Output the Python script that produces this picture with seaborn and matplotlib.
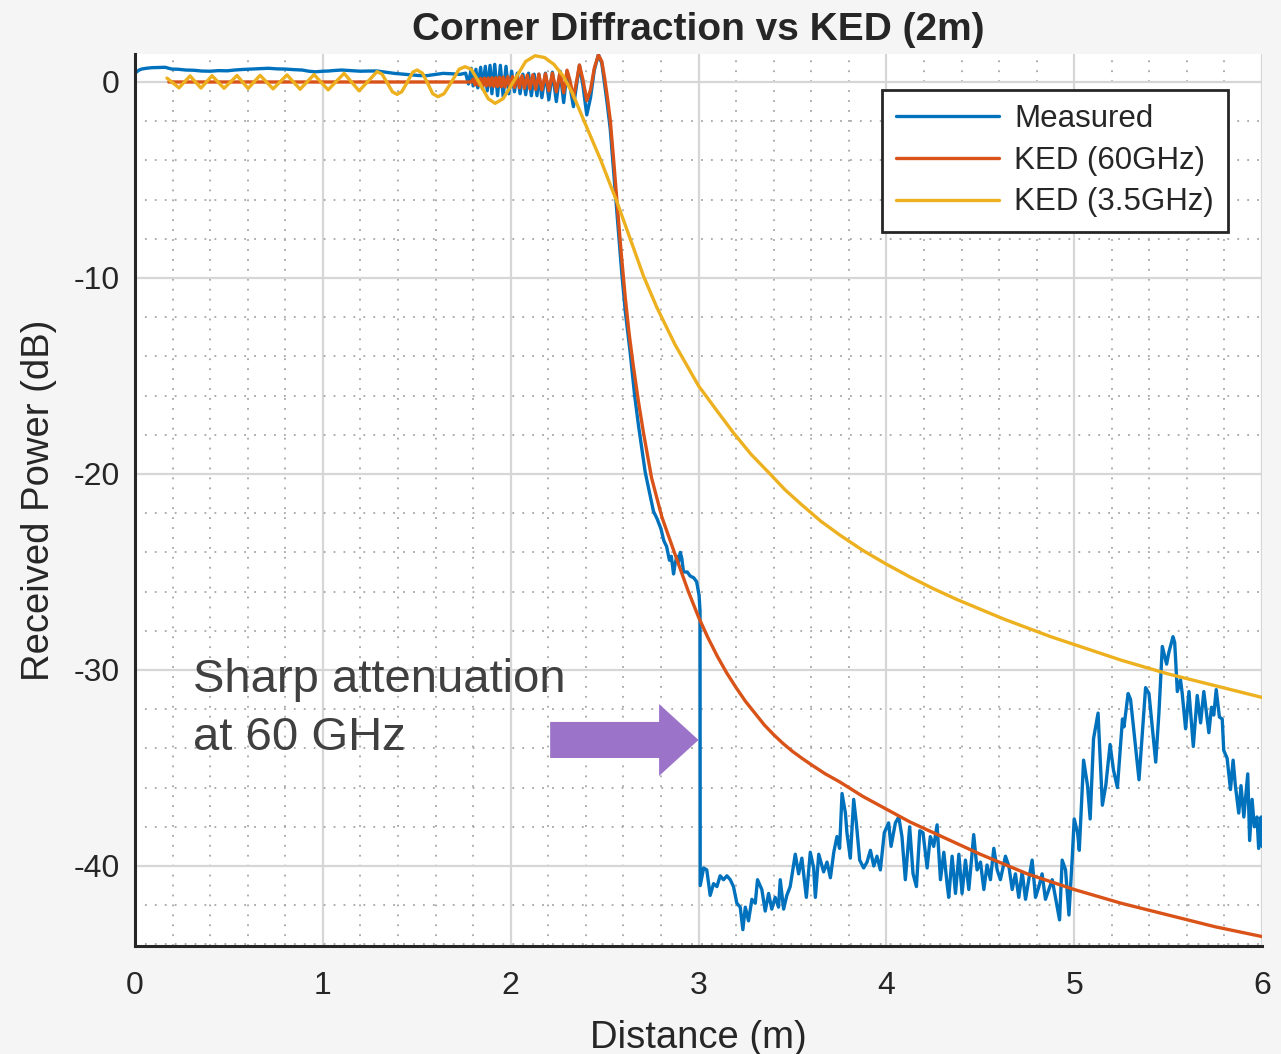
import matplotlib
matplotlib.use("Agg")
import matplotlib.pyplot as plt
from matplotlib.patches import FancyArrow
from matplotlib.ticker import MultipleLocator
import seaborn as sns

# ---- Measured received power (blue) ----
meas_dist_los = [0.0, 0.02, 0.035, 0.06, 0.09, 0.12, 0.16, 0.195, 0.23, 0.27, 0.31, 0.355, 0.40,
                 0.445, 0.49, 0.53, 0.575, 0.62, 0.665, 0.71, 0.755, 0.80, 0.845, 0.89, 0.925, 0.96,
                 1.0, 1.03, 1.065, 1.10, 1.15, 1.20, 1.245, 1.29, 1.335, 1.38, 1.425, 1.47, 1.51,
                 1.55, 1.595, 1.64, 1.685, 1.73]
meas_db_los = [0.45, 0.6, 0.66, 0.7, 0.73, 0.74, 0.75, 0.66, 0.65, 0.61, 0.6, 0.56, 0.55,
               0.58, 0.57, 0.61, 0.64, 0.66, 0.68, 0.70, 0.67, 0.66, 0.63, 0.61, 0.55, 0.52,
               0.55, 0.56, 0.59, 0.61, 0.58, 0.55, 0.56, 0.56, 0.5, 0.44, 0.4, 0.36, 0.33,
               0.32, 0.38, 0.44, 0.42, 0.39]

meas_dist_fringe = [1.76, 1.775, 1.79, 1.80, 1.815, 1.825, 1.84, 1.85, 1.865, 1.875,
                    1.89, 1.90, 1.915, 1.93, 1.945, 1.96, 1.975, 1.99, 2.005, 2.02,
                    2.035, 2.05, 2.065, 2.08, 2.095, 2.11, 2.125, 2.14, 2.15, 2.166,
                    2.185, 2.203, 2.222, 2.243, 2.263, 2.282, 2.30, 2.317, 2.334, 2.35,
                    2.366, 2.385, 2.405, 2.425, 2.445, 2.467, 2.485, 2.50, 2.515, 2.53]
meas_db_fringe = [0.45, -0.1, 0.7, -0.2, 0.65, -0.3, 0.75, -0.35, 0.8, -0.45,
                  0.85, -0.6, 0.9, -0.7, 0.85, -0.75, 0.8, -0.6, 0.55, -0.5,
                  0.45, -0.6, 0.4, -0.65, 0.45, -0.7, 0.4, -0.7, 0.4, -0.8,
                  0.45, -0.9, 0.5, -1.0, 0.55, -1.05, 0.55, -0.3, -1.26, -0.2,
                  0.85, -0.2, -1.68, -0.8, 0.6, 1.4, 0.95, -0.1, -1.2, -2.4]

meas_dist_edge = [2.55, 2.57, 2.59, 2.61, 2.636, 2.66, 2.68, 2.716, 2.76, 2.78, 2.80, 2.815,
                  2.83, 2.845, 2.855, 2.867, 2.875, 2.885, 2.893, 2.903, 2.911, 2.92, 2.94,
                  2.955, 2.975, 2.99, 3.003, 3.008]
meas_db_edge = [-4.8, -7.2, -9.6, -11.7, -13.8, -16.0, -17.5, -19.9, -21.9, -22.3, -22.8, -23.4,
                -23.7, -24.4, -24.2, -25.1, -24.6, -24.2, -24.5, -24.0, -24.3, -25.0, -25.0,
                -25.2, -25.3, -25.5, -26.2, -27.0]

meas_dist_shadow = [3.009, 3.027, 3.044, 3.062, 3.08, 3.098, 3.115, 3.133, 3.151, 3.169,
                    3.186, 3.204, 3.222, 3.236, 3.249, 3.266, 3.284, 3.302, 3.314, 3.337,
                    3.355, 3.373, 3.39, 3.408, 3.426, 3.435, 3.453, 3.47, 3.488, 3.515,
                    3.533, 3.55, 3.574, 3.595, 3.613, 3.622, 3.64, 3.666, 3.684, 3.702,
                    3.72, 3.737, 3.751, 3.764, 3.782, 3.79, 3.808, 3.826, 3.84, 3.858,
                    3.879, 3.897, 3.915, 3.933, 3.95, 3.968, 3.989, 4.012, 4.025, 4.048,
                    4.066, 4.083, 4.101, 4.124, 4.142, 4.16, 4.178, 4.195, 4.217, 4.234,
                    4.252, 4.27, 4.288, 4.306, 4.323, 4.332, 4.35, 4.368, 4.386, 4.403,
                    4.421, 4.439, 4.465, 4.483, 4.501, 4.519, 4.536, 4.554, 4.572, 4.59,
                    4.607, 4.634, 4.652, 4.67, 4.687, 4.705, 4.723, 4.741, 4.758, 4.776,
                    4.794, 4.812, 4.829, 4.847, 4.865, 4.883, 4.9, 4.922, 4.936, 4.954,
                    4.972, 4.99, 5.0, 5.018, 5.027, 5.05, 5.071, 5.085, 5.103, 5.127,
                    5.15, 5.168, 5.191, 5.209, 5.23, 5.257, 5.265, 5.287, 5.30, 5.345,
                    5.38, 5.398, 5.434, 5.451, 5.469, 5.492, 5.504, 5.526, 5.535, 5.549,
                    5.566, 5.575, 5.593, 5.611, 5.634, 5.655, 5.673, 5.69, 5.717, 5.731,
                    5.743, 5.756, 5.773, 5.788, 5.796, 5.814, 5.832, 5.846, 5.858, 5.876,
                    5.888, 5.903, 5.924, 5.934, 5.947, 5.959, 5.973, 5.982, 5.995, 6.0]
meas_db_shadow = [-41.0, -40.1, -40.2, -41.5, -40.9, -41.05, -40.5, -40.7, -40.5, -40.7,
                  -41.05, -41.9, -42.1, -43.25, -42.1, -42.8, -41.7, -41.9, -40.7, -41.2,
                  -42.3, -41.4, -42.2, -41.6, -42.1, -40.7, -42.2, -41.5, -41.05, -39.4,
                  -40.4, -39.6, -41.6, -39.3, -40.1, -41.6, -39.4, -40.3, -39.8, -40.6,
                  -39.3, -38.5, -39.1, -36.3, -37.3, -38.3, -39.6, -36.6, -37.8, -39.7,
                  -40.1, -39.8, -39.2, -40.0, -39.5, -40.2, -38.3, -37.8, -39.0, -37.8,
                  -37.5, -38.5, -40.7, -38.0, -40.4, -41.05, -38.2, -38.3, -40.1, -38.5,
                  -39.0, -37.9, -40.7, -39.3, -40.9, -41.6, -39.5, -41.4, -39.4, -41.4,
                  -39.7, -41.2, -38.4, -40.2, -39.8, -41.2, -39.95, -40.7, -39.1, -40.2,
                  -40.7, -39.5, -40.0, -41.2, -40.4, -41.6, -40.3, -41.7, -40.7, -39.7,
                  -41.6, -41.05, -40.4, -41.7, -41.2, -40.7, -41.6, -42.75, -39.7, -40.2,
                  -42.5, -39.5, -37.6, -38.3, -39.2, -34.6, -35.9, -37.6, -33.5, -32.2,
                  -36.9, -35.9, -33.8, -35.1, -36.0, -32.5, -32.9, -31.2, -31.5, -35.6,
                  -30.9, -31.2, -34.7, -32.2, -28.8, -29.7, -29.1, -28.3, -28.6, -31.1,
                  -30.5, -31.2, -33.0, -31.1, -33.9, -31.3, -32.7, -31.1, -33.2, -31.9,
                  -32.3, -31.0, -32.4, -32.5, -34.1, -34.5, -36.1, -34.6, -35.9, -37.3,
                  -35.9, -37.5, -35.3, -38.7, -36.6, -38.0, -37.5, -39.1, -37.5, -39.0]

meas_dist = meas_dist_los + meas_dist_fringe + meas_dist_edge + meas_dist_shadow
meas_db = meas_db_los + meas_db_fringe + meas_db_edge + meas_db_shadow

# ---- KED model at 60 GHz (red) ----
ked60_dist = [0.18, 0.6, 1.0, 1.4, 1.79,
              1.80, 1.81, 1.82, 1.83, 1.84, 1.85, 1.86, 1.87, 1.88, 1.89,
              1.90, 1.91, 1.92, 1.93, 1.94, 1.95, 1.96, 1.97, 1.985, 1.995,
              2.01, 2.02, 2.035, 2.047, 2.06, 2.073, 2.088, 2.102, 2.118, 2.133,
              2.15, 2.166, 2.185, 2.203, 2.222, 2.243, 2.263, 2.282, 2.30, 2.315,
              2.334, 2.35, 2.366, 2.385, 2.405, 2.425, 2.445, 2.467, 2.485, 2.50,
              2.515, 2.53, 2.55, 2.57, 2.59, 2.61, 2.63, 2.653, 2.68, 2.707,
              2.75, 2.805, 2.875, 2.946, 3.0, 3.05, 3.1, 3.15, 3.2, 3.25,
              3.3, 3.35, 3.4, 3.45, 3.5, 3.55, 3.6, 3.675, 3.75, 3.875,
              4.0, 4.125, 4.25, 4.375, 4.5, 4.625, 4.75, 4.875, 5.0, 5.125,
              5.25, 5.375, 5.5, 5.625, 5.75, 5.875, 6.0]
ked60_db = [0.0, 0.0, 0.0, 0.0, 0.0,
            0.15, -0.15, 0.17, -0.17, 0.18, -0.18, 0.2, -0.2, 0.2, -0.2,
            0.22, -0.22, 0.22, -0.23, 0.24, -0.24, 0.25, -0.25, 0.27, -0.27,
            0.28, -0.28, 0.3, -0.3, 0.32, -0.32, 0.35, -0.35, 0.37, -0.38,
            0.4, -0.4, 0.42, -0.45, 0.45, -0.5, 0.5, -0.55, 0.6, 0.1,
            -0.8, 0.0, 0.87, 0.1, -0.95, -0.4, 0.7, 1.38, 1.05, 0.2,
            -0.8, -1.94, -4.2, -6.6, -8.9, -11.0, -12.8, -14.5, -16.3, -17.9,
            -20.2, -22.2, -24.1, -26.0, -27.3, -28.35, -29.3, -30.15, -30.9, -31.6,
            -32.2, -32.8, -33.3, -33.75, -34.15, -34.5, -34.83, -35.3, -35.7, -36.45,
            -37.1, -37.75, -38.3, -38.85, -39.4, -39.9, -40.4, -40.8, -41.2, -41.55,
            -41.9, -42.2, -42.5, -42.8, -43.1, -43.35, -43.6]

# ---- KED model at 3.5 GHz (yellow) ----
ked35_dist = [0.17, 0.234, 0.293, 0.351, 0.41, 0.474, 0.543, 0.602, 0.666, 0.735,
              0.809, 0.879, 0.953, 1.028, 1.113, 1.193, 1.289, 1.315, 1.342, 1.37,
              1.395, 1.42, 1.45, 1.478, 1.502, 1.53, 1.557, 1.585, 1.613, 1.645,
              1.685, 1.725, 1.757, 1.79, 1.837, 1.88, 1.917, 1.96, 2.02, 2.08,
              2.13, 2.18, 2.23, 2.28, 2.33, 2.40, 2.48, 2.565, 2.64, 2.707,
              2.778, 2.875, 3.0, 3.1, 3.186, 3.28, 3.381, 3.46, 3.541, 3.65,
              3.75, 3.875, 4.0, 4.125, 4.25, 4.375, 4.5, 4.625, 4.75, 4.875,
              5.0, 5.125, 5.25, 5.375, 5.5, 5.625, 5.75, 5.875, 6.0]
ked35_db = [0.2, -0.3, 0.31, -0.31, 0.32, -0.32, 0.33, -0.33, 0.34, -0.35,
            0.36, -0.37, 0.38, -0.4, 0.44, -0.45, 0.53, 0.4, -0.03, -0.5,
            -0.63, -0.5, 0.0, 0.5, 0.61, 0.45, -0.05, -0.6, -0.75, -0.6,
            0.0, 0.65, 0.78, 0.65, -0.1, -0.85, -1.09, -0.85, 0.1, 1.05,
            1.34, 1.25, 0.9, 0.3, -0.6, -2.2, -4.0, -6.1, -8.1, -9.9,
            -11.5, -13.4, -15.5, -16.8, -17.9, -19.0, -20.0, -20.8, -21.5, -22.4,
            -23.1, -23.9, -24.6, -25.25, -25.85, -26.4, -26.9, -27.4, -27.85, -28.3,
            -28.7, -29.1, -29.5, -29.85, -30.2, -30.5, -30.8, -31.1, -31.4]

x_ticks = [0, 1, 2, 3, 4, 5, 6]
y_ticks = [-40, -30, -20, -10, 0]

sns.set_theme(style="white")
plt.rcParams['font.family'] = ['Liberation Sans', 'DejaVu Sans']
plt.rcParams['axes.unicode_minus'] = False

fig = plt.figure(figsize=(12.81, 10.54), dpi=100, facecolor='#f5f5f5')
ax = fig.add_axes([0.1054, 0.1025, 0.8798, 0.8463])
ax.set_facecolor('white')

lw = 2.4
sns.lineplot(x=meas_dist, y=meas_db, sort=False, estimator=None, color='#0072BD',
             linewidth=lw, label='Measured', ax=ax)
sns.lineplot(x=ked60_dist, y=ked60_db, sort=False, estimator=None, color='#D95319',
             linewidth=lw, label='KED (60GHz)', ax=ax)
sns.lineplot(x=ked35_dist, y=ked35_db, sort=False, estimator=None, color='#EDB120',
             linewidth=lw, label='KED (3.5GHz)', ax=ax)

ax.set_xlim(0, 6)
ax.set_ylim(-44.08, 1.43)
ax.set_xticks(x_ticks)
ax.set_yticks(y_ticks)
ax.xaxis.set_minor_locator(MultipleLocator(0.2))
ax.yaxis.set_minor_locator(MultipleLocator(2))
ax.set_axisbelow(True)
ax.grid(which='major', color='#d6d6d6', linewidth=1.6, linestyle='-')
ax.grid(which='minor', color='#a6a6a6', linewidth=1.3, linestyle=(0, (1, 4.5)))

for side in ['top', 'right']:
    ax.spines[side].set_visible(False)
for side in ['left', 'bottom']:
    ax.spines[side].set_color('#262626')
    ax.spines[side].set_linewidth(2.2)

ax.tick_params(which='major', direction='in', length=8, width=2, color='#262626',
               labelsize=23, labelcolor='#262626')
ax.tick_params(axis='x', which='major', pad=18)
ax.tick_params(axis='y', which='major', pad=11)
ax.tick_params(which='minor', length=0)

ax.set_title('Corner Diffraction vs KED (2m)', fontsize=28, fontweight='bold', pad=10)
ax.set_xlabel('Distance (m)', fontsize=27.5, color='#262626', labelpad=14)
ax.set_ylabel('Received Power (dB)', fontsize=27.5, color='#262626', labelpad=12)

leg = ax.legend(loc='upper right', bbox_to_anchor=(0.970, 0.960), borderaxespad=0,
                fontsize=22.5, frameon=True, fancybox=False, framealpha=1,
                handlelength=3.3, handletextpad=0.5, labelspacing=0.38, borderpad=0.45)
leg.get_frame().set_edgecolor('#262626')
leg.get_frame().set_linewidth(2)

# annotation: purple block arrow pointing to the sharp drop
ax.add_patch(FancyArrow(2.21, -33.57, 0.79, 0, width=1.84, head_width=3.67, head_length=0.21,
                        length_includes_head=True, color='#9b74c9', linewidth=0, zorder=5))
ax.text(0.31, -31.1, 'Sharp attenuation', fontsize=34, color='#404040', va='baseline')
ax.text(0.31, -34.1, 'at 60 GHz', fontsize=34, color='#404040', va='baseline')

fig.savefig('out.png', dpi=100, facecolor=fig.get_facecolor())
